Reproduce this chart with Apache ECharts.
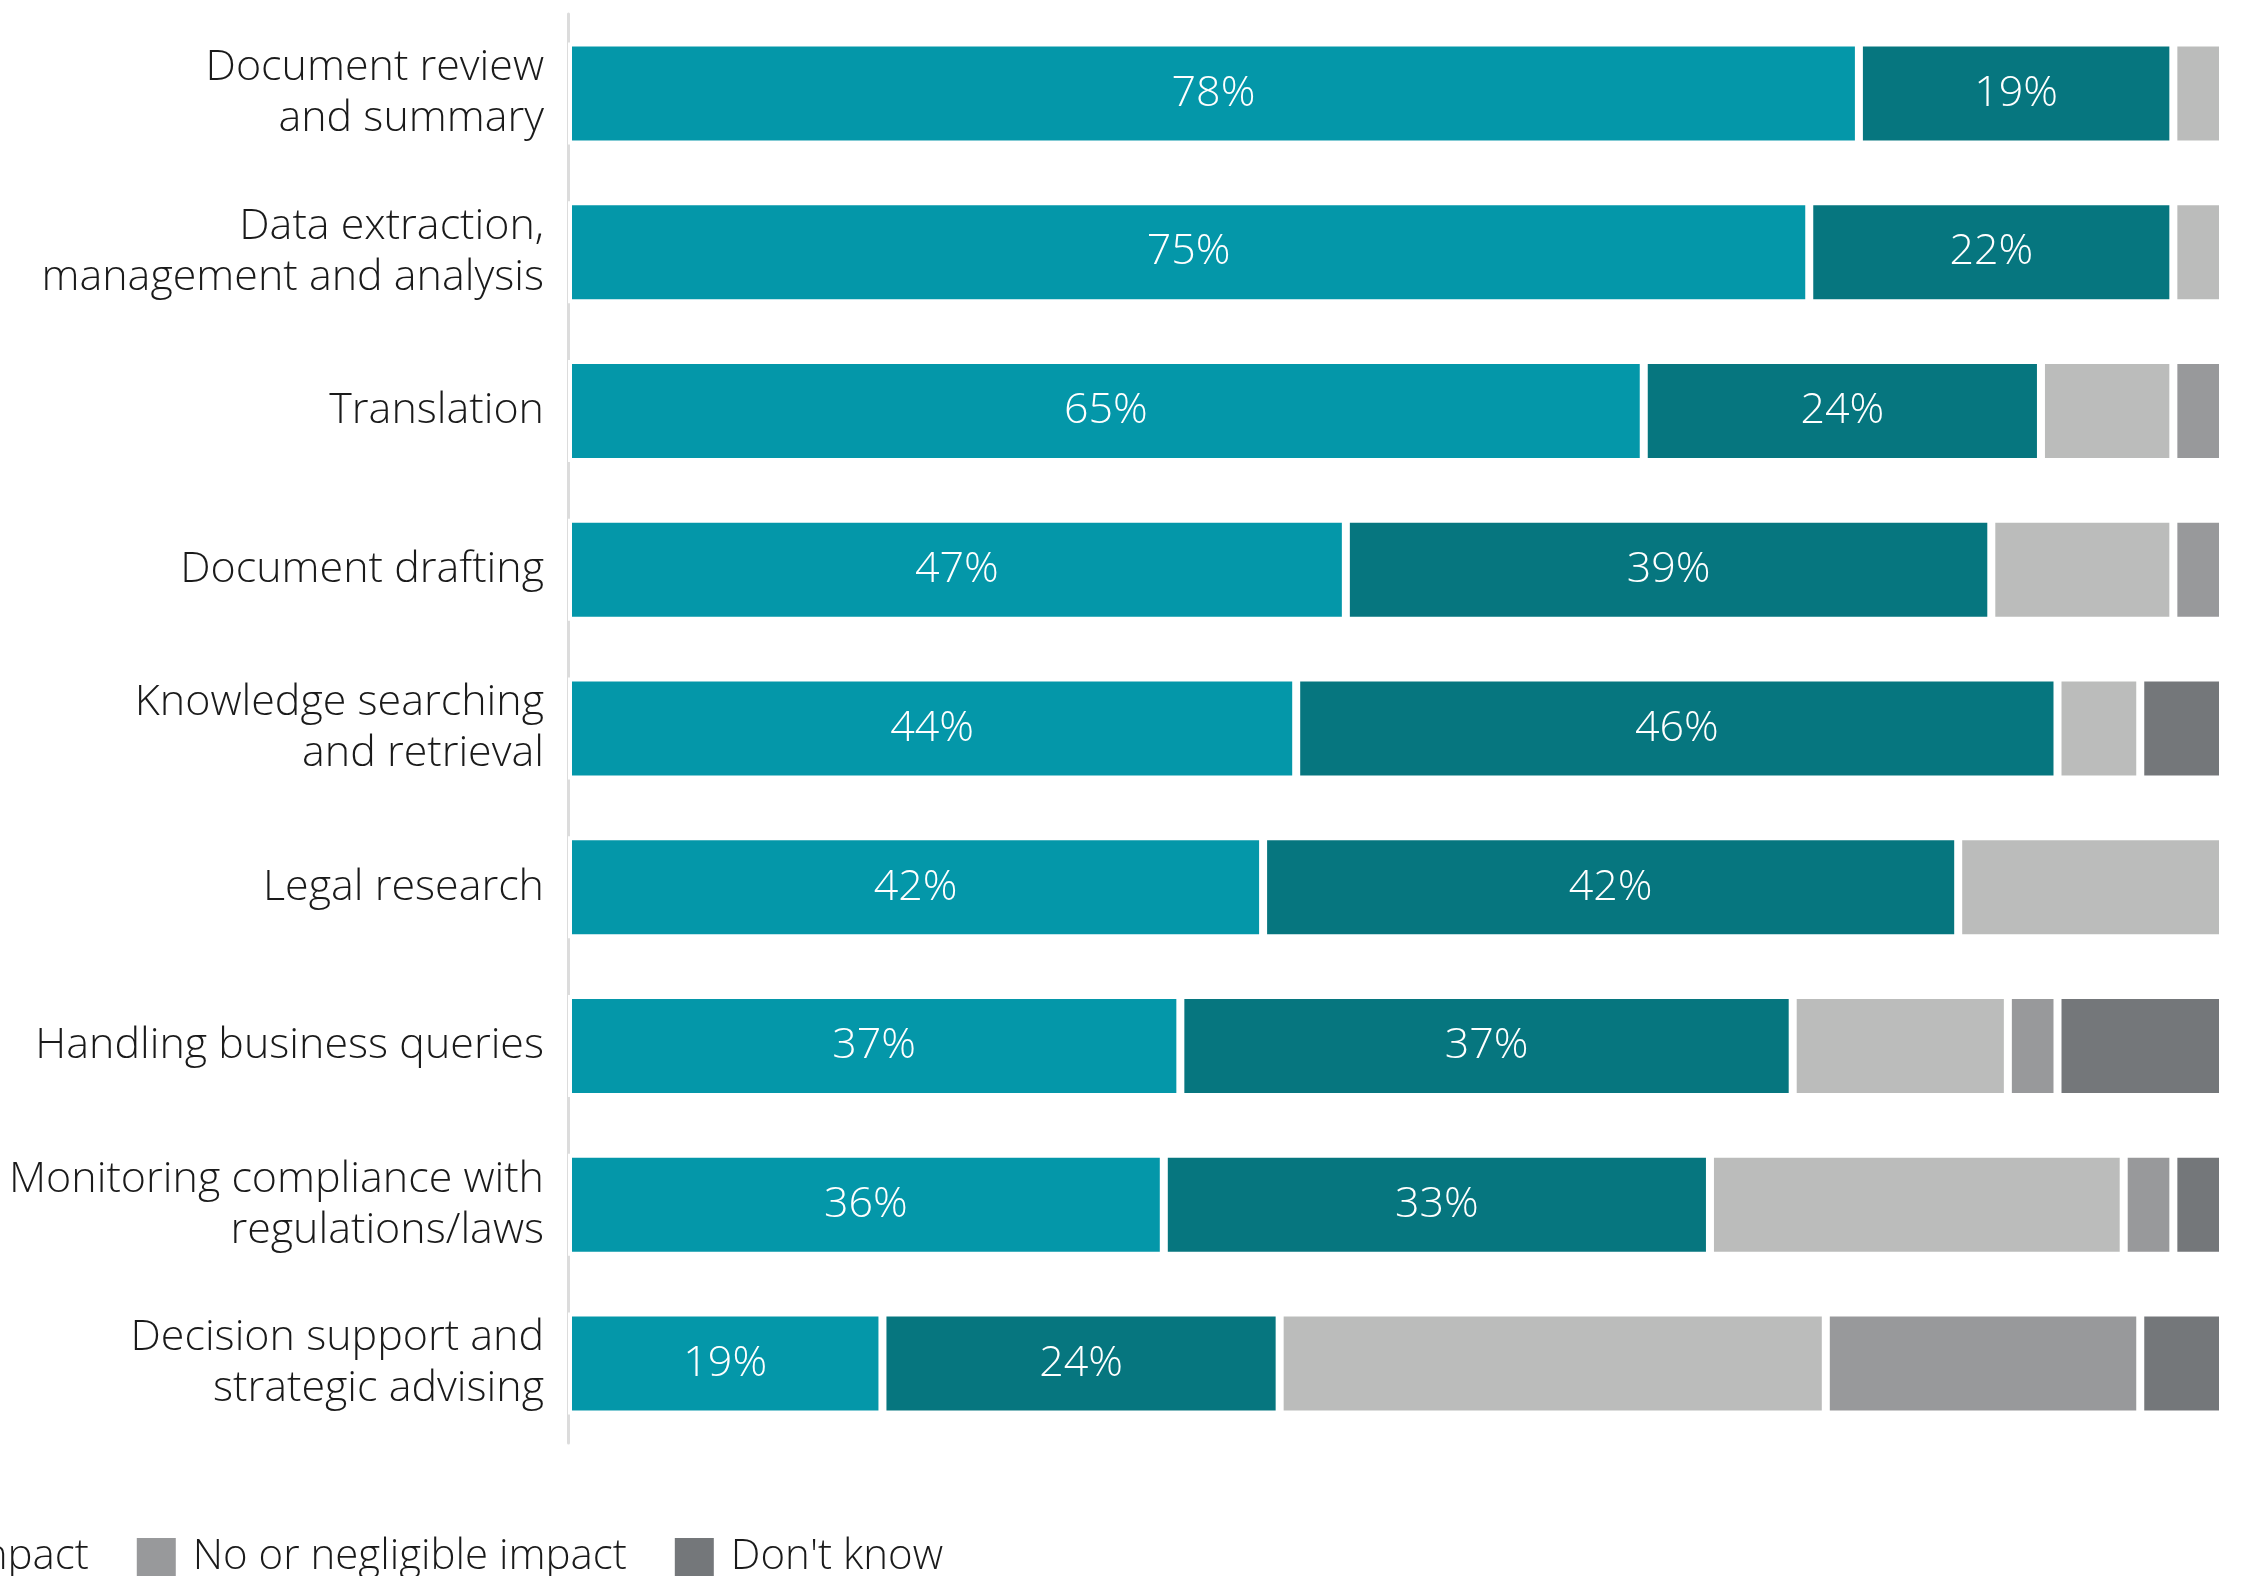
<!DOCTYPE html>
<html>
<head>
<meta charset="utf-8">
<style>
  html, body { margin: 0; padding: 0; background: #ffffff; }
  #chart { width: 2250px; height: 1576px; }
</style>
<script src="https://cdn.jsdelivr.net/npm/echarts@6/dist/echarts.min.js"></script>
</head>
<body>
<div id="chart"></div>
<script>
// ---- Data (percent of respondents) ----
var categories = [
  "Document review\nand summary",
  "Data extraction,\nmanagement and analysis",
  "Translation",
  "Document drafting",
  "Knowledge searching\nand retrieval",
  "Legal research",
  "Handling business queries",
  "Monitoring compliance with\nregulations/laws",
  "Decision support and\nstrategic advising"
];
var seriesNames = ["Significant impact", "Moderate impact", "Minor impact", "No or negligible impact", "Don't know"];
var significantImpact = [78, 75, 65, 47, 44, 42, 37, 36, 19];
var moderateImpact    = [19, 22, 24, 39, 46, 42, 37, 33, 24];
var minorImpact       = [3, 3, 8, 11, 5, 16, 13, 25, 33];
var noImpact          = [0, 0, 3, 3, 0, 0, 3, 3, 19];
var dontKnow          = [0, 0, 0, 0, 5, 0, 10, 3, 5];
var colors = ["#0497A9", "#06767F", "#BBBCBB", "#98999B", "#74777A"];

var FONT = "'Open Sans', 'Noto Sans', sans-serif";
var seriesValues = [significantImpact, moderateImpact, minorImpact, noImpact, dontKnow];

var chart = echarts.init(document.getElementById('chart'), null, { renderer: 'canvas' });

var series = seriesValues.map(function (vals, i) {
  return {
    name: seriesNames[i],
    type: 'bar',
    stack: 'total',
    barWidth: 102,
    data: vals,
    itemStyle: { color: colors[i], borderColor: '#ffffff', borderWidth: 4 },
    label: {
      show: i < 2,
      position: 'inside',
      formatter: '{c}%',
      color: '#ffffff',
      fontFamily: FONT,
      fontWeight: 300,
      fontSize: 43
    },
    emphasis: { disabled: true },
    animation: false
  };
});

var option = {
  backgroundColor: '#ffffff',
  animation: false,
  grid: { left: 568, right: 27, top: 14, bottom: 133, containLabel: false },
  xAxis: {
    type: 'value',
    min: 0,
    max: 100,
    show: false
  },
  yAxis: {
    type: 'category',
    data: categories,
    inverse: true,
    axisLine: { show: true, lineStyle: { color: '#DCDCDC', width: 3 } },
    axisTick: { show: false },
    axisLabel: {
      margin: 24,
      color: '#1a1a1a',
      fontFamily: FONT,
      fontWeight: 300,
      fontSize: 43,
      lineHeight: 51,
      align: 'right'
    }
  },
  legend: {
    data: seriesNames,
    orient: 'horizontal',
    right: 1307,
    top: 1536,
    width: 3000,
    padding: 0,
    itemWidth: 41,
    itemHeight: 41,
    itemGap: 46,
    icon: 'rect',
    selectedMode: false,
    textStyle: {
      color: '#1a1a1a',
      fontFamily: FONT,
      fontWeight: 300,
      fontSize: 42,
      padding: [0, 0, 0, 11]
    }
  },
  series: series
};

chart.setOption(option);
</script>
</body>
</html>
